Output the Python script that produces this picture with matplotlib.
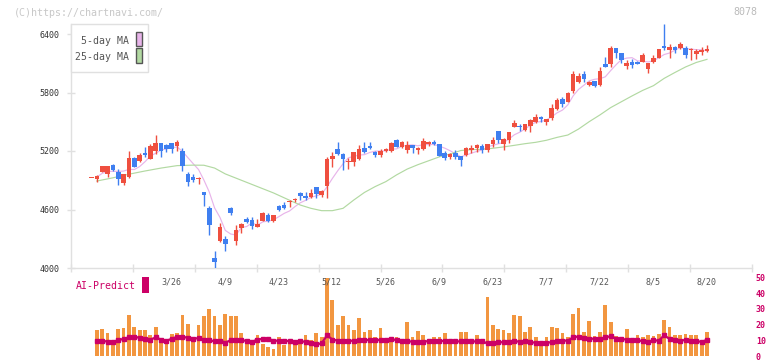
import matplotlib
matplotlib.use("Agg")
import matplotlib.pyplot as plt
from matplotlib.patches import Rectangle
import numpy as np
import pandas as pd

# ---------------- data ----------------
opens = [4923, 4916, 4985, 4961, 5056, 4985, 4875, 4930, 5132, 5101,
         5180, 5121, 5203, 5279, 5262, 5279, 5255, 5200, 4964, 4937,
         4910, 4783, 4619, 4106, 4277, 4297, 4612, 4277, 4414, 4502,
         4492, 4424, 4486, 4540, 4486, 4636, 4646, 4677, 4700, 4773,
         4739, 4725, 4827, 4749, 4844, 5115, 5221, 5169, 5090, 5091,
         5118, 5234, 5255, 5193, 5162, 5203, 5203, 5313, 5244, 5210,
         5262, 5210, 5221, 5268, 5292, 5272, 5183, 5142, 5183, 5149,
         5159, 5210, 5227, 5251, 5210, 5272, 5405, 5272, 5313, 5450,
         5460, 5415, 5452, 5501, 5552, 5497, 5542, 5631, 5733, 5706,
         5815, 5908, 5990, 5880, 5918, 5877, 6092, 6096, 6256, 6205,
         6075, 6113, 6113, 6116, 6044, 6109, 6157, 6277, 6239, 6267,
         6256, 6256, 6236, 6198, 6219, 6226]
highs = [4923, 4954, 5050, 5046, 5067, 5015, 4965, 5200, 5135, 5180,
         5241, 5268, 5364, 5282, 5272, 5282, 5313, 5227, 4988, 4961,
         4930, 4783, 4639, 4174, 4465, 4332, 4629, 4441, 4458, 4520,
         4520, 4499, 4575, 4561, 4545, 4646, 4674, 4697, 4720, 4783,
         4783, 4810, 4834, 4795, 5142, 5193, 5292, 5183, 5132, 5193,
         5262, 5292, 5292, 5196, 5217, 5234, 5292, 5323, 5302, 5302,
         5265, 5245, 5330, 5302, 5313, 5275, 5200, 5183, 5210, 5152,
         5238, 5262, 5268, 5272, 5275, 5347, 5410, 5330, 5395, 5518,
         5477, 5480, 5528, 5576, 5559, 5532, 5682, 5740, 5750, 5802,
         6020, 6003, 6020, 5921, 5921, 6065, 6167, 6277, 6260, 6208,
         6133, 6140, 6120, 6205, 6102, 6185, 6246, 6502, 6297, 6277,
         6318, 6277, 6253, 6246, 6263, 6287]
lows = [4923, 4885, 4980, 4937, 5000, 4851, 4851, 4920, 5035, 5084,
        5138, 5114, 5166, 5142, 5186, 5176, 5203, 4998, 4844, 4885,
        4865, 4639, 4338, 3990, 4270, 4174, 4544, 4236, 4362, 4465,
        4400, 4420, 4480, 4475, 4475, 4588, 4602, 4629, 4680, 4698,
        4698, 4715, 4715, 4732, 4721, 5039, 5162, 5005, 5015, 5050,
        5108, 5183, 5220, 5142, 5142, 5190, 5186, 5237, 5234, 5176,
        5183, 5166, 5210, 5251, 5265, 5145, 5108, 5115, 5115, 5050,
        5149, 5176, 5186, 5176, 5186, 5244, 5279, 5210, 5279, 5443,
        5409, 5405, 5400, 5484, 5501, 5470, 5518, 5621, 5651, 5699,
        5798, 5901, 5911, 5870, 5860, 5870, 6065, 6065, 6157, 6106,
        6041, 6055, 6090, 6109, 6003, 6099, 6150, 6236, 6157, 6202,
        6250, 6157, 6133, 6147, 6188, 6219]
closes = [4923, 4943, 5046, 5046, 5005, 4913, 4961, 5132, 5039, 5159,
          5159, 5251, 5279, 5203, 5217, 5217, 5292, 5050, 4885, 4906,
          4916, 4752, 4441, 4065, 4424, 4246, 4568, 4390, 4448, 4475,
          4431, 4451, 4561, 4486, 4540, 4595, 4619, 4684, 4706, 4739,
          4722, 4773, 4759, 4790, 5118, 5149, 5169, 5118, 5098, 5190,
          5217, 5190, 5231, 5162, 5200, 5221, 5282, 5244, 5292, 5262,
          5234, 5234, 5306, 5292, 5268, 5149, 5132, 5173, 5142, 5108,
          5234, 5234, 5262, 5210, 5272, 5313, 5313, 5323, 5392, 5491,
          5443, 5477, 5522, 5545, 5525, 5525, 5641, 5723, 5685, 5791,
          5990, 5969, 5938, 5911, 5870, 6020, 6065, 6256, 6208, 6137,
          6099, 6085, 6096, 6185, 6102, 6154, 6246, 6260, 6263, 6239,
          6297, 6188, 6243, 6226, 6236, 6246]

# 25-day moving average, read at sampled trading-day indices
ma25_idx = [1, 4, 7, 10, 13, 16, 19, 21, 23, 25, 28, 31, 34, 37, 39, 41, 43,
            45, 47, 49, 51, 53, 55, 57, 59, 61, 63, 65, 67, 69, 71, 73, 75,
            77, 79, 81, 83, 85, 87, 89, 91, 93, 95, 97, 99, 101, 103, 105,
            107, 109, 111, 113, 115]
ma25_val = [4892, 4925, 4962, 4995, 5025, 5050, 5055, 5054, 5025, 4965, 4900,
            4835, 4770, 4695, 4646, 4612, 4588, 4588, 4612, 4697, 4775, 4835,
            4886, 4955, 5015, 5060, 5100, 5140, 5169, 5205, 5214, 5217, 5228,
            5242, 5258, 5275, 5289, 5310, 5340, 5364, 5425, 5501, 5570, 5645,
            5705, 5765, 5822, 5870, 5945, 6005, 6062, 6108, 6140]

# lower panel (indices 1..115)
volume = [16.8, 17.4, 14.9, 9.7, 17.4, 18.1, 26.3, 18.7, 16.8, 16.8,
          13.7, 18.7, 9.7, 10.5, 14.3, 14.9, 26.3, 20.6, 10.5, 19.5,
          25.2, 30.0, 25.8, 20.0, 26.9, 25.2, 25.2, 14.9, 10.5, 9.1,
          13.7, 7.4, 5.5, 4.6, 12.4, 7.0, 9.0, 9.7, 11.0, 13.2,
          10.5, 14.9, 11.8, 50.0, 35.7, 20.0, 25.2, 20.0, 16.8, 24.4,
          15.6, 16.8, 12.4, 18.1, 11.1, 9.7, 12.4, 11.1, 21.8, 12.4,
          16.2, 13.2, 8.4, 12.4, 11.8, 14.9, 10.5, 11.1, 15.6, 15.6,
          9.7, 13.2, 9.7, 37.8, 19.5, 17.4, 16.8, 14.9, 26.3, 25.6,
          15.6, 18.7, 11.8, 6.7, 12.4, 18.7, 18.1, 14.9, 12.4, 26.9,
          30.7, 15.6, 22.5, 13.0, 15.6, 32.6, 21.8, 13.0, 10.5, 17.4,
          11.1, 13.7, 11.8, 13.7, 13.0, 14.3, 23.1, 18.7, 13.7, 13.7,
          14.3, 13.7, 13.7, 8.6, 15.6]
ai_predict = [9.7, 9.7, 9.2, 9.0, 10.0, 11.0, 11.8, 12.4, 11.5, 10.8,
              10.5, 11.8, 10.5, 9.7, 11.0, 12.2, 12.4, 11.5, 11.0, 11.4,
              10.5, 10.0, 9.4, 9.8, 8.6, 10.0, 10.0, 10.0, 9.7, 9.0,
              10.5, 10.9, 10.9, 9.8, 9.7, 9.7, 9.5, 9.0, 9.5, 9.0,
              8.4, 7.5, 8.0, 13.2, 10.5, 9.8, 9.7, 9.7, 9.7, 10.0,
              10.0, 10.3, 10.0, 10.3, 10.3, 11.0, 10.0, 9.7, 9.7, 9.0,
              8.8, 9.2, 9.5, 9.7, 9.7, 9.5, 9.5, 9.3, 9.3, 9.3,
              9.3, 9.3, 9.3, 8.0, 8.6, 8.8, 8.8, 9.0, 9.7, 9.0,
              9.7, 8.8, 8.5, 8.6, 8.2, 9.0, 9.7, 9.8, 9.8, 12.0,
              12.4, 11.5, 11.0, 11.0, 10.8, 12.0, 12.5, 11.0, 10.8, 10.5,
              10.3, 10.0, 9.5, 9.2, 10.0, 9.8, 13.2, 10.9, 10.5, 9.7,
              10.3, 9.7, 9.5, 9.0, 10.3]

date_labels = ["3/26", "4/9", "4/23", "5/12", "5/26", "6/9", "6/23",
               "7/7", "7/22", "8/5", "8/20"]
date_label_idx = [15, 25, 35, 45, 55, 65, 75, 85, 95, 105, 115]
price_ticks = [4000, 4600, 5200, 5800, 6400]
vol_ticks = [0, 10, 20, 30, 40, 50]

# ---------------- styling ----------------
RED = "#ef4f3f"
BLUE = "#3f7ff0"
PINK = "#e8b4ea"
GREEN = "#b2d9a2"
ORANGE = "#f29640"
CRIMSON = "#cc0066"
AXC = "#e0e0e0"
MONO = "DejaVu Sans Mono"

W, H = 772, 361
fig = plt.figure(figsize=(W / 100, H / 100), dpi=100)
fig.patch.set_facecolor("white")

L, R = 70.7, 752.3
T, B = 24.0, 268.0
X0, DX = 91.5, 5.352          # pixel of first candle, pixels per day
xlim = ((L - X0) / DX, (R - X0) / DX)

ax = fig.add_axes([L / W, 1 - B / H, (R - L) / W, (B - T) / H])
ax.set_xlim(*xlim)
ax.set_ylim(4000, 4000 + (B - T) * 600 / 58.5)

n = len(closes)
idx = np.arange(n)
o = np.array(opens, float)
c = np.array(closes, float)
hi = np.array(highs, float)
lo = np.array(lows, float)
up = c >= o
cols = np.where(up, RED, BLUE)
bottoms = np.minimum(o, c)
heights = np.maximum(np.abs(c - o), 10)

ax.vlines(idx, lo, hi, colors=cols, lw=1.0, zorder=3)
ax.bar(idx, heights, bottom=bottoms, width=0.86, color=cols, lw=0, zorder=4)

ma5 = pd.Series(c).rolling(5, min_periods=1).mean().values
ax.plot(idx[1:], ma5[1:], color=PINK, lw=0.85, zorder=2)
ax.plot(ma25_idx, ma25_val, color=GREEN, lw=0.85, zorder=2)

for s in ["top", "right"]:
    ax.spines[s].set_visible(False)
for s in ["left", "bottom"]:
    ax.spines[s].set_color(AXC)
    ax.spines[s].set_linewidth(1.0)
ax.set_yticks(price_ticks)
ax.set_yticklabels([str(v) for v in price_ticks], fontsize=6, color="#333333",
                   family=MONO)
ax.set_xticks(np.linspace(xlim[0], xlim[1], 12))
ax.set_xticklabels([])
ax.tick_params(axis="both", direction="inout", length=5.8, width=1.0, color=AXC)
ax.tick_params(axis="y", pad=5.0)
ax.set_facecolor("none")

# lower panel
VB, VT = 356.0, 277.6
axv = fig.add_axes([L / W, 1 - VB / H, (R - L) / W, (VB - VT) / H])
axv.set_xlim(*xlim)
axv.set_ylim(0, 50)
vidx = np.arange(1, n)
axv.bar(vidx, volume, width=0.7, color=ORANGE, lw=0, zorder=2)
axv.plot(vidx, ai_predict, color=CRIMSON, lw=1.6, marker="s", ms=2.3,
         zorder=3)
for s in axv.spines.values():
    s.set_visible(False)
axv.set_xticks([])
axv.yaxis.tick_right()
axv.set_yticks(vol_ticks)
axv.set_yticklabels([str(v) for v in vol_ticks], fontsize=6.0, color=CRIMSON,
                    family=MONO, fontweight="bold")
axv.tick_params(axis="y", length=0, pad=2.6)
axv.set_facecolor("none")
for i, lab in zip(date_label_idx, date_labels):
    axv.text(i - 0.1, 47.2, lab, ha="center", va="center", fontsize=6,
             color="#555555", family=MONO)

# overlay in pixel coordinates
ov = fig.add_axes([0, 0, 1, 1])
ov.set_xlim(0, W)
ov.set_ylim(H, 0)
ov.axis("off")
ov.patch.set_alpha(0)
ov.text(14, 12.7, "(C)https://chartnavi.com/", ha="left", va="center",
        fontsize=7.2, color="#c8c8c8", family=MONO)
ov.text(757.3, 12.0, "8078", ha="right", va="center", fontsize=7.2,
        color="#bbbbbb", family=MONO)
ov.add_patch(Rectangle((70.7, 24.3), 77.6, 47.4, fc="white", ec=AXC, lw=1.0))
ov.text(129, 40.7, "5-day MA", ha="right", va="center", fontsize=7.1,
        color="#555555", family=MONO)
ov.text(129, 57.3, "25-day MA", ha="right", va="center", fontsize=7.1,
        color="#555555", family=MONO)
ov.add_patch(Rectangle((136, 31.7), 6.3, 14.3, fc=PINK, ec="#555555", lw=1.0))
ov.add_patch(Rectangle((136, 48.3), 6.3, 15.0, fc=GREEN, ec="#555555", lw=1.0))
ov.text(75.7, 286, "AI-Predict", ha="left", va="center", fontsize=7.1,
        color=CRIMSON, family=MONO)
ov.add_patch(Rectangle((142.3, 276.7), 6.7, 16, fc=CRIMSON, ec="none"))

fig.savefig("out.png", dpi=100)
